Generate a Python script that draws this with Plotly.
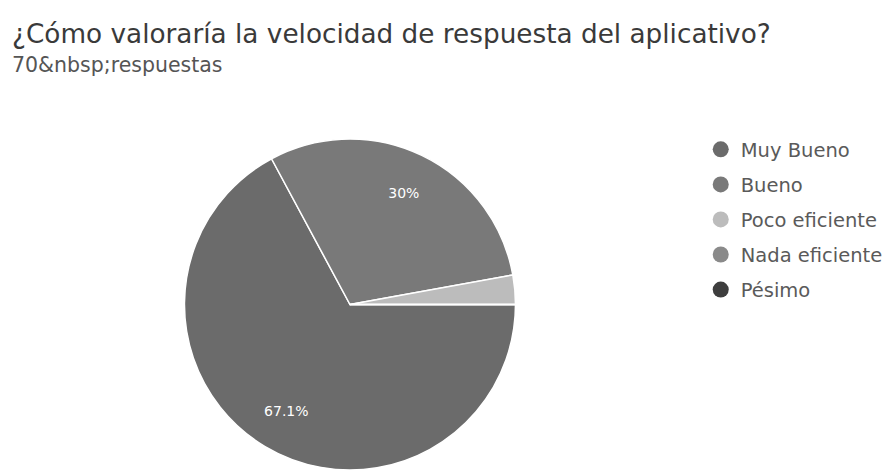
import plotly.graph_objects as go

# Survey answers (70 responses)
categories = ["Muy Bueno", "Bueno", "Poco eficiente", "Nada eficiente", "Pésimo"]
counts = [47, 21, 2, 0, 0]
colors = ["#6b6b6b", "#797979", "#bcbcbc", "#8a8a8a", "#3e3e3e"]

title_text = "¿Cómo valoraría la velocidad de respuesta del aplicativo?"
subtitle_text = "70&amp;nbsp;respuestas"

FONT = "DejaVu Sans, Verdana, sans-serif"
total = sum(counts)


def pct_label(v):
    p = v / total * 100
    if p < 5:
        return ""
    s = f"{p:.1f}"
    if s.endswith(".0"):
        s = s[:-2]
    return s + "%"


labels_text = [pct_label(v) for v in counts]
pie_domain = dict(x=[0.2074, 0.5817], y=[0.0, 0.7043])

fig = go.Figure()

# Filled slices
fig.add_trace(go.Pie(
    labels=categories,
    values=counts,
    sort=False,
    direction="clockwise",
    rotation=90,
    marker=dict(colors=colors, line=dict(color="white", width=1.5)),
    textinfo="none",
    showlegend=False,
    hoverinfo="label+percent",
    domain=pie_domain,
))

# Transparent ring on top that carries the percentage labels,
# so they sit toward the outer part of each slice
fig.add_trace(go.Pie(
    labels=categories,
    values=counts,
    sort=False,
    direction="clockwise",
    rotation=90,
    hole=0.5,
    marker=dict(colors=["rgba(0,0,0,0)"] * len(counts),
                line=dict(color="rgba(0,0,0,0)", width=0)),
    text=labels_text,
    textinfo="text",
    textposition="inside",
    insidetextorientation="horizontal",
    textfont=dict(family=FONT, size=14, color="white"),
    showlegend=False,
    hoverinfo="skip",
    domain=pie_domain,
))

# Legend entries drawn as round markers
for i, (name, col) in enumerate(zip(categories, colors)):
    fig.add_trace(go.Scatter(
        x=[None], y=[None], mode="markers", name=name,
        legendgroup=f"g{i}",
        marker=dict(color=col, size=16, symbol="circle"),
        showlegend=True,
    ))

fig.update_layout(
    width=887, height=470,
    margin=dict(l=0, r=0, t=0, b=0, autoexpand=False),
    paper_bgcolor="white", plot_bgcolor="white",
    xaxis=dict(visible=False), yaxis=dict(visible=False),
    showlegend=True,
    legend=dict(
        x=0.790, y=0.723, xanchor="left", yanchor="top",
        font=dict(family=FONT, size=19.5, color="#5a5a5a"),
        traceorder="grouped", tracegroupgap=6.7,
        itemwidth=30, bgcolor="rgba(0,0,0,0)",
    ),
    annotations=[
        dict(text=title_text, x=0.011, y=1 - 34 / 470, xref="paper", yref="paper",
             xanchor="left", yanchor="middle", showarrow=False,
             font=dict(family=FONT, size=26.3, color="#3a3a3a")),
        dict(text=subtitle_text, x=0.011, y=1 - 65 / 470, xref="paper", yref="paper",
             xanchor="left", yanchor="middle", showarrow=False,
             font=dict(family=FONT, size=20.5, color="#555555")),
    ],
)

fig.write_html("out.html")
